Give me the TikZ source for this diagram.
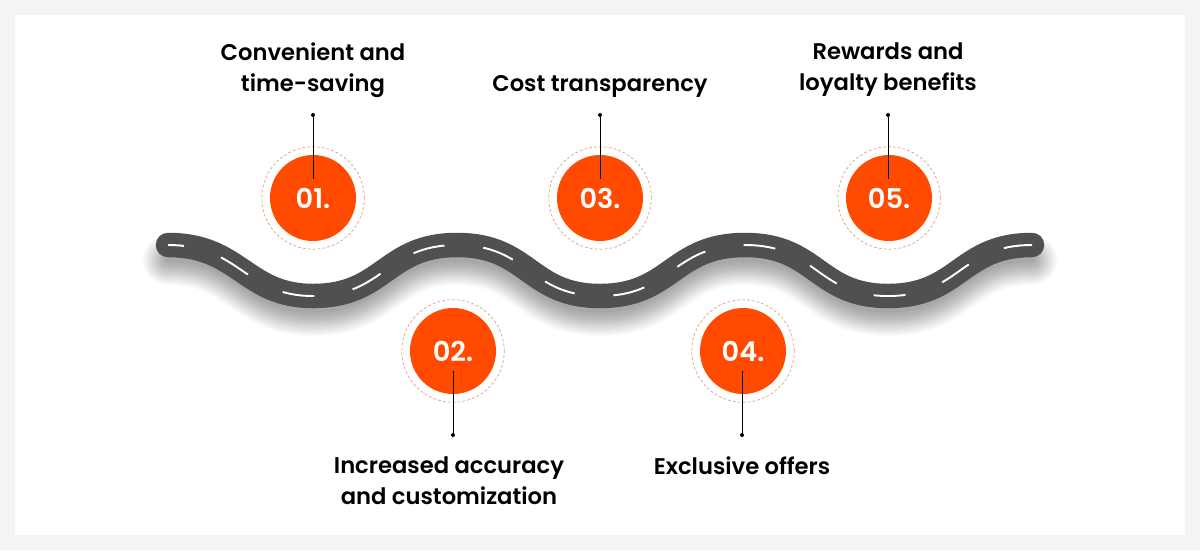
\documentclass[tikz,border=0pt]{standalone}
\usepackage{fontspec}
\setmainfont{Poppins}
\newfontfamily\labelfont{Poppins SemiBold}
\definecolor{PageGrey}{RGB}{244, 244, 244}
\definecolor{RoadGrey}{RGB}{80, 80, 80}
\definecolor{MarkerOrange}{RGB}{255, 74, 0}
\definecolor{RingOrange}{RGB}{228, 160, 128}
\newcommand{\roadpath}{(168,245) .. controls (240,245) and (245,296) .. (313,296)
    .. controls (385,296) and (385,245) .. (457,245)
    .. controls (529,245) and (529,296) .. (600,296)
    .. controls (672,296) and (672,245) .. (745,245)
    .. controls (817,245) and (817,296) .. (888,296)
    .. controls (960,296) and (960,245) .. (1032,245)}
\tikzset{
    marker/.style={circle, fill=MarkerOrange, minimum size=1.72cm, inner sep=0pt,
        text=white, font=\labelfont\fontsize{15.5}{15.5}\selectfont},
    ring/.style={circle, draw=RingOrange, line width=0.4pt, dash pattern=on 1.6pt off 1.2pt,
        minimum size=2.05cm, inner sep=0pt},
    leaderdot/.style={circle, fill=black, minimum size=0.08cm, inner sep=0pt},
    leader/.style={black, line width=0.5pt},
    caption/.style={align=center, text=black, font=\labelfont\fontsize{12.9}{17.6}\selectfont}
}

\begin{document}
\begin{tikzpicture}[x=0.2mm, y=-0.2mm]
    \path[use as bounding box] (0,0) rectangle (1200,550);

    % Page and card
    \fill[PageGrey] (0,0) rectangle (1200,550);
    \fill[white] (15,15) rectangle (1185,535);

    % Soft shadow under the road
    \foreach \w in {1,2,...,24} {
        \draw[black, opacity=0.016, line width=\w*0.042cm, line cap=round, yshift=-0.3cm] \roadpath;
    }

    % Road and centre line
    \draw[RoadGrey, line width=0.49cm, line cap=round] \roadpath;
    \draw[white, line width=1.1pt, dash pattern=on 0.64cm off 0.78cm, dash phase=0.32cm] \roadpath;

    % Dashed rings
    \node[ring] (r1) at (313,198) {};
    \node[ring] (r2) at (453,351) {};
    \node[ring] (r3) at (600,198) {};
    \node[ring] (r4) at (743,351) {};
    \node[ring] (r5) at (889,198) {};

    % Numbered markers
    \node[marker] (m1) at (313,198) {01.};
    \node[marker] (m2) at (453,351) {02.};
    \node[marker] (m3) at (600,198) {03.};
    \node[marker] (m4) at (743,351) {04.};
    \node[marker] (m5) at (889,198) {05.};

    % Leader lines
    \node[leaderdot] (d1) at (313,115) {};
    \node[leaderdot] (d2) at (453,435) {};
    \node[leaderdot] (d3) at (600,115) {};
    \node[leaderdot] (d4) at (742,435) {};
    \node[leaderdot] (d5) at (888,115) {};
    \coordinate (e1) at (313,179);
    \coordinate (e2) at (453,371);
    \coordinate (e3) at (600,179);
    \coordinate (e4) at (742,371);
    \coordinate (e5) at (888,179);
    \draw[leader] (d1) -- (e1);
    \draw[leader] (d2) -- (e2);
    \draw[leader] (d3) -- (e3);
    \draw[leader] (d4) -- (e4);
    \draw[leader] (d5) -- (e5);

    % Captions
    \node[caption] (t1) at (313,70) {Convenient and\\time-saving};
    \node[caption] (t2) at (449,481) {Increased accuracy\\and customization};
    \node[caption] (t3) at (600,86) {Cost transparency};
    \node[caption] (t4) at (742,466) {Exclusive offers};
    \node[caption] (t5) at (888,70) {Rewards and\\loyalty benefits};
\end{tikzpicture}
\end{document}
